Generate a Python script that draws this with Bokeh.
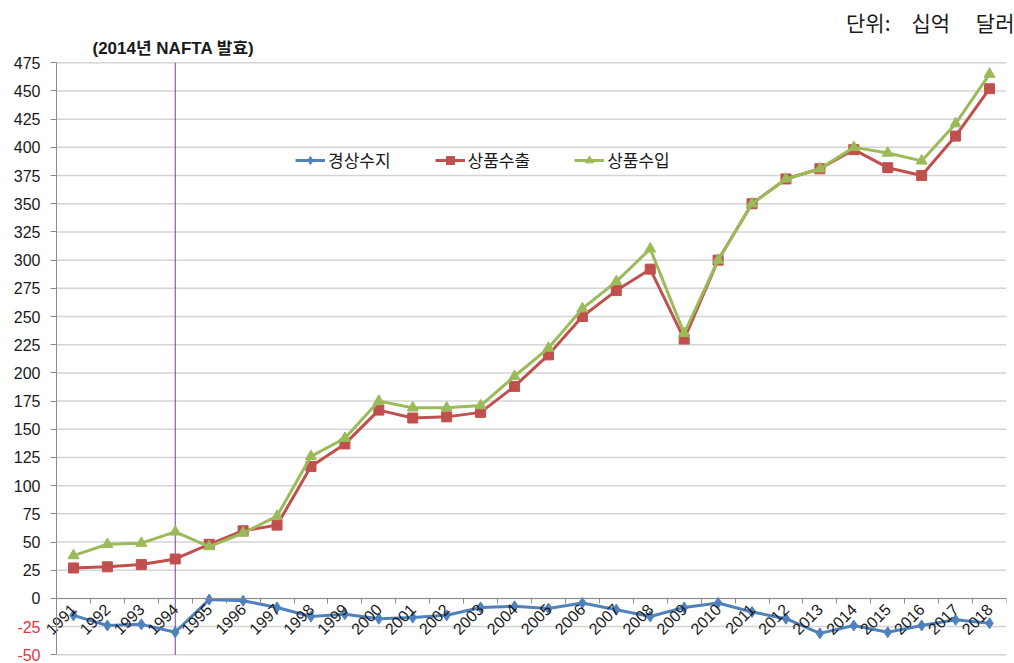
import math
from bokeh.plotting import figure
from bokeh.models import (Range1d, FixedTicker, Legend, LegendItem,
                          PrintfTickFormatter, Title)
from bokeh.core.properties import value
from bokeh.embed import file_html
from bokeh.resources import INLINE

# US trade with Mexico, billions of dollars
years = list(range(1991, 2019))
current_account = [-15, -24, -23, -30, -1, -2, -8, -16, -14, -18,
                   -17, -15, -8, -7, -9, -4, -10, -16, -8, -4,
                   -12, -18, -31, -24, -30, -24, -19, -22]
exports = [27, 28, 30, 35, 48, 60, 65, 117, 137, 167,
           160, 161, 165, 188, 216, 250, 273, 292, 230, 300,
           350, 372, 381, 398, 382, 375, 410, 452]
imports = [38, 48, 49, 59, 46, 58, 73, 126, 142, 175,
           169, 169, 171, 197, 222, 257, 281, 310, 235, 300,
           350, 372, 381, 400, 395, 388, 421, 465]
series_names = ["경상수지", "상품수출", "상품수입"]
nafta_year = 1994
y_ticks = list(range(-50, 476, 25))
neg_ticks = [v for v in y_ticks if v < 0]

NUM_FONT = "Liberation Sans"
KR_FONT = "Noto Sans CJK KR"
GRAY = "#8c8c8c"

# page geometry (pixels)
W, H = 1014, 663
AXIS_PX = 56            # x of the value axis
RIGHT_PX = 8
FRAME_TOP = 40
PLOT_TOP, PLOT_BOTTOM = 62.3, 654.3   # where the top and bottom ticks land

x_lo, x_hi = years[0] - 0.5, years[-1] + 0.5
y_lo, y_hi = y_ticks[0], y_ticks[-1]
# the frame spans past the axes so that the tick labels are drawn inside it
x_start = x_lo - AXIS_PX * (x_hi - x_lo) / (W - AXIS_PX - RIGHT_PX)
k = (PLOT_BOTTOM - PLOT_TOP) / (y_hi - y_lo)
y_top = y_hi + (PLOT_TOP - FRAME_TOP) / k
y_bottom = y_lo - (H - PLOT_BOTTOM) / k

p = figure(width=W, height=H, output_backend="svg", toolbar_location=None,
           x_range=Range1d(x_start, x_hi), y_range=Range1d(y_bottom, y_top),
           min_border_left=0, min_border_right=RIGHT_PX,
           min_border_top=FRAME_TOP, min_border_bottom=0)
p.outline_line_color = None
p.background_fill_color = "white"
p.border_fill_color = "white"
p.xgrid.grid_line_color = None
p.ygrid.grid_line_color = None

# horizontal gridlines across the plotting area
p.segment(x0=x_lo, x1=x_hi, y0=y_ticks, y1=y_ticks,
          line_color="#d4d4d4", line_width=1.5)

# category axis drawn through zero, ticks between the years
xax = p.xaxis[0]
xax.fixed_location = 0
xax.bounds = (x_lo, x_hi)
xax.ticker = FixedTicker(ticks=years,
                         minor_ticks=[y - 0.5 for y in years] + [x_hi])
xax.formatter = PrintfTickFormatter(format="%d")
xax.major_tick_line_color = None
xax.minor_tick_in = 0
xax.minor_tick_out = 5
xax.minor_tick_line_color = GRAY
xax.axis_line_color = GRAY
xax.axis_line_width = 1
xax.major_label_orientation = math.pi / 4
xax.major_label_text_font = NUM_FONT
xax.major_label_text_font_size = "16px"
xax.major_label_text_color = "#1a1a1a"
xax.major_label_standoff = 2

# value axis pinned to the left edge of the year range
yax = p.yaxis[0]
yax.fixed_location = x_lo
yax.bounds = (y_lo, y_hi)
yax.ticker = FixedTicker(ticks=y_ticks)
yax.major_label_overrides = {v: "" for v in neg_ticks}
yax.major_tick_out = 6
yax.major_tick_in = 0
yax.minor_tick_line_color = None
yax.major_tick_line_color = GRAY
yax.axis_line_color = GRAY
yax.major_label_text_font = NUM_FONT
yax.major_label_text_font_size = "16px"
yax.major_label_text_color = "#1a1a1a"
yax.major_label_standoff = 10

# negative values labelled in red
p.text(x=[x_lo] * len(neg_ticks), y=neg_ticks, text=[str(v) for v in neg_ticks],
       x_offset=-16, text_align="right", text_baseline="middle",
       text_font=value(NUM_FONT), text_font_size="16px", text_color="#e8323c")

# NAFTA marker line and its note
p.segment(x0=[nafta_year], x1=[nafta_year], y0=[y_lo], y1=[y_hi],
          line_color="#7d3c98", line_width=1)
p.text(x=[x_lo], y=[y_hi], text=["(2014년 NAFTA 발효)"],
       x_offset=36, y_offset=-5, text_align="left", text_baseline="bottom",
       text_font=value(NUM_FONT + ", " + KR_FONT), text_font_size="17px",
       text_font_style="bold", text_color="#1a1a1a")

blue, red, green = "#4f81bd", "#c0504d", "#9bbb59"
r_ca_l = p.line(years, current_account, line_color=blue, line_width=3)
r_ca_m = p.scatter(years, current_account, marker="diamond", size=11,
                   fill_color=blue, line_color=blue)
r_ex_l = p.line(years, exports, line_color=red, line_width=3)
r_ex_m = p.scatter(years, exports, marker="square", size=10,
                   fill_color=red, line_color=red)
r_im_l = p.line(years, imports, line_color=green, line_width=3)
r_im_m = p.scatter(years, imports, marker="triangle", size=11,
                   fill_color=green, line_color=green)

legend = Legend(items=[
    LegendItem(label=series_names[0], renderers=[r_ca_l, r_ca_m]),
    LegendItem(label=series_names[1], renderers=[r_ex_l, r_ex_m]),
    LegendItem(label=series_names[2], renderers=[r_im_l, r_im_m]),
], orientation="horizontal", location=(239 + AXIS_PX, H - 172))
legend.background_fill_alpha = 0
legend.border_line_color = None
legend.padding = 0
legend.margin = 0
legend.spacing = 44
legend.glyph_width = 30
legend.glyph_height = 20
legend.label_standoff = 3
legend.label_text_font = KR_FONT
legend.label_text_font_size = "17px"
legend.label_text_color = "#1a1a1a"
p.add_layout(legend, "center")

p.add_layout(Title(text="단위:\u3000십억\u3000\u00a0달러", align="right",
                   offset=-8, standoff=8, text_font=KR_FONT,
                   text_font_size="21px", text_font_style="normal",
                   text_color="#1a1a1a"), "above")

open("out.html", "w").write(file_html(p, INLINE))
